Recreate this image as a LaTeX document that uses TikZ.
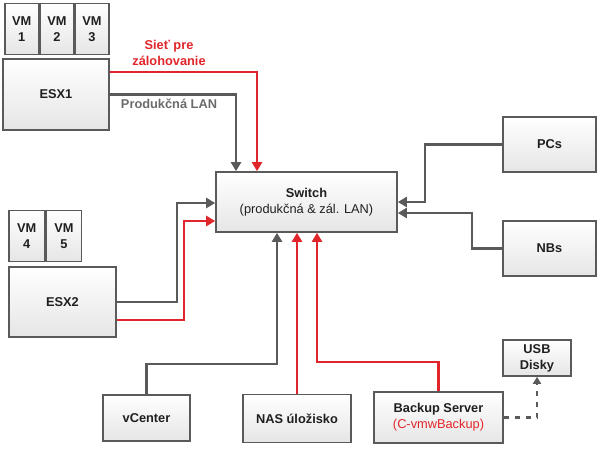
\documentclass[tikz,border=0pt]{standalone}
\usepackage{fontspec}
\setmainfont{Liberation Sans}
\usepackage{tikz}
\usetikzlibrary{arrows.meta, positioning, calc}
\newcommand{\netfont}{\fontsize{12.8pt}{16pt}\selectfont}
\definecolor{net_gray}{HTML}{5A5A5A}
\colorlet{netgray}{net_gray}
\definecolor{net_red}{HTML}{E1262B}
\colorlet{netred}{net_red}
\tikzset{
  unit/.style={draw=netgray,line width=1.6pt,top color=white,bottom color=black!10,
    text=black!88,font=\netfont\bfseries,align=center,inner sep=2pt},
  vmbox/.style={unit,minimum width=33.5pt,minimum height=51pt},
  vmbox_w/.style={vmbox,minimum width=35.5pt},
  host/.style={unit,minimum width=106pt,minimum height=71pt},
  client/.style={unit,minimum width=93pt,minimum height=55pt},
  server/.style={unit,minimum height=48pt},
  netlabel/.style={font=\netfont\bfseries,align=center},
  lan/.style={line width=2.2pt,draw=netgray,-{Triangle[length=9pt,width=10pt]}},
  bak/.style={lan,draw=netred},
  usblink/.style={lan,dash pattern=on 5pt off 6pt,-{Triangle[length=7pt,width=8pt]}},
}

\begin{document}
\begin{tikzpicture}[x=1pt,y=-1pt]
	    \useasboundingbox (0,0) rectangle (601,449);
	    % hosts with virtual machines
	    \node[host] (esx1) at (56,94.5) {ESX1};
	    \node[vmbox,anchor=south west] (vm1) at ([xshift=2pt,yshift=3pt]esx1.north west) {VM\\1};
	    \node[vmbox,right=0pt of vm1] (vm2) {VM\\2};
	    \node[vmbox,right=0pt of vm2] (vm3) {VM\\3};
	    \node[host,minimum width=107pt,minimum height=70pt] (esx2) at (62.5,302) {ESX2};
	    \node[vmbox_w,anchor=south west] (vm4) at ([yshift=4pt]esx2.north west) {VM\\4};
	    \node[vmbox_w,right=0pt of vm4] (vm5) {VM\\5};
	    % switch and clients
	    \node[unit,minimum width=181pt,minimum height=60pt] (sw) at (306.5,202)
	      {Switch\\\mdseries(produkčná \& zál. LAN)};
	    \node[client] (pcs) at (549.5,144.5) {PCs};
	    \node[client] (nbs) at (549.5,248.5) {NBs};
	    \node[server,minimum width=87pt,minimum height=46pt] (vc) at (146.5,418) {vCenter};
	    \node[server,minimum width=108pt] (nas) at (297,418.5) {NAS úložisko};
	    \node[server,minimum width=129pt,minimum height=51pt] (bk) at (438.5,417.5)
	      {Backup Server\\\mdseries\textcolor{netred}{(C-vmwBackup)}};
	    \node[unit,minimum width=68pt,minimum height=36pt] (usb) at (537,358) {USB\\Disky};
	    % network labels
	    \node[netlabel,text=netred] (lbak) at (169,53) {Sieť pre\\zálohovanie};
	    \node[netlabel,text=netgray!90] (llan) at (169,104) {Produkčná LAN};
	    % connections
	    \draw[lan] (esx1.east) -| ([xshift=-70.5pt]sw.north);
	    \draw[bak] ([yshift=22.5pt]esx1.east) -| ([xshift=-49.5pt]sw.north);
	    \draw[lan] (esx2.east) -- ++(60,0) |- ([yshift=-1pt]sw.west);
	    \draw[bak] ([yshift=-18pt]esx2.east) -- ++(67,0) |- ([yshift=-19pt]sw.west);
	    \draw[lan] (pcs.west) -- ++(-77,0) |- (sw.east);
	    \draw[lan] (nbs.west) -- ++(-30,0) |- ([yshift=-11pt]sw.east);
	    \draw[lan] (vc.north) -- ++(0,-30) -| ([xshift=-29.5pt]sw.south);
	    \draw[bak] (nas.north) -- (nas.north |- sw.south);
	    \draw[bak] (bk.north) -- ++(0,-29) -| ([xshift=10.5pt]sw.south);
	    \draw[usblink] (bk.east) -| (usb.south);
	\end{tikzpicture}
\end{document}
